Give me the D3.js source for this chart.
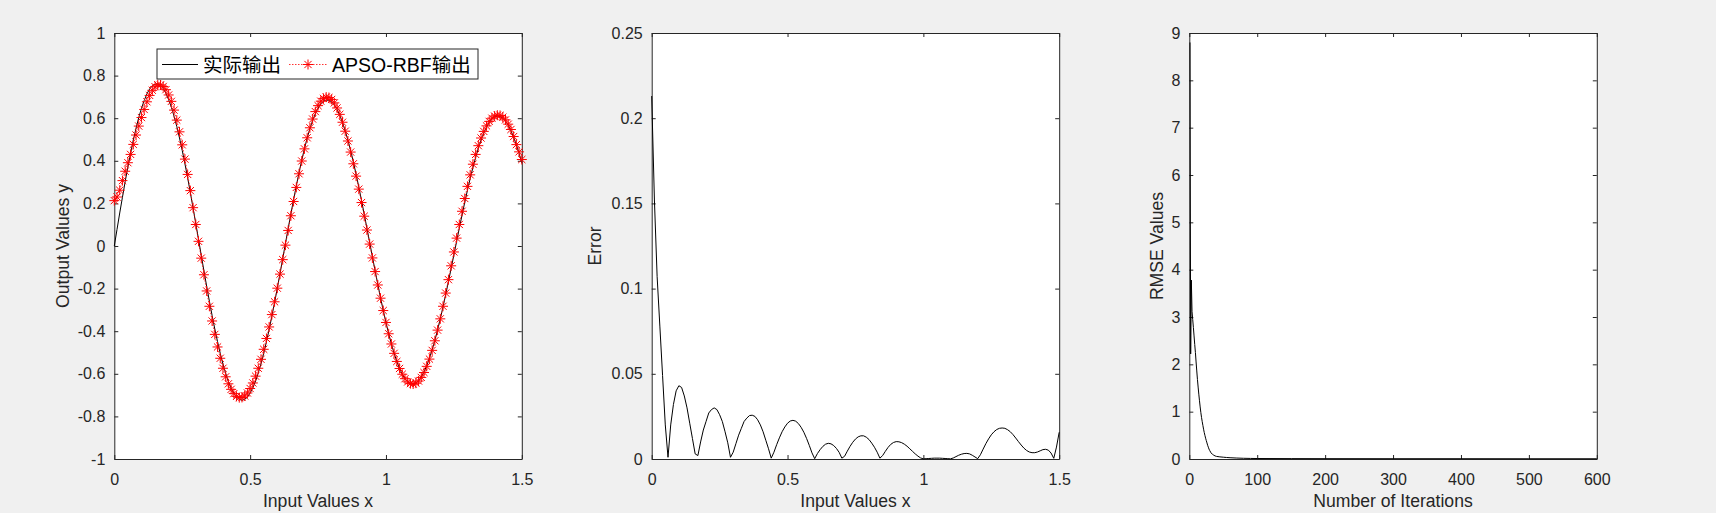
<!DOCTYPE html>
<html>
<head>
<meta charset="utf-8">
<script src="https://cdn.jsdelivr.net/npm/d3@7"></script>
<style>
  html, body { margin: 0; padding: 0; background: #f0f0f0; }
  svg { display: block; }
  text { font-family: "Liberation Sans", Arial, "Noto Sans CJK SC", sans-serif; }
</style>
</head>
<body>
<svg id="chart" width="1716" height="513"></svg>
<script>
// x = 0:0.01:1.5 sample grid for the first two panels
const xStep = 0.01;

// actual output (black line)
const actualY = [
  0, 0.078, 0.155, 0.229, 0.302, 0.371, 0.436, 0.497, 0.553, 0.603,
  0.646, 0.683, 0.714, 0.737, 0.752, 0.760, 0.761, 0.753, 0.739, 0.717,
  0.687, 0.652, 0.609, 0.561, 0.507, 0.449, 0.386, 0.320, 0.250, 0.178,
  0.105, 0.031, -0.043, -0.117, -0.189, -0.259, -0.326, -0.390, -0.449, -0.504,
  -0.554, -0.598, -0.636, -0.667, -0.692, -0.710, -0.720, -0.724, -0.720, -0.709,
  -0.690, -0.666, -0.634, -0.596, -0.553, -0.504, -0.450, -0.392, -0.330, -0.265,
  -0.198, -0.129, -0.059, 0.012, 0.082, 0.151, 0.218, 0.283, 0.345, 0.403,
  0.457, 0.507, 0.551, 0.589, 0.621, 0.647, 0.667, 0.680, 0.685, 0.684,
  0.677, 0.662, 0.641, 0.614, 0.580, 0.541, 0.497, 0.448, 0.395, 0.337,
  0.277, 0.214, 0.149, 0.083, 0.017, -0.050, -0.116, -0.180, -0.243, -0.303,
  -0.359, -0.412, -0.460, -0.504, -0.542, -0.575, -0.602, -0.623, -0.638, -0.646,
  -0.648, -0.643, -0.632, -0.615, -0.591, -0.562, -0.527, -0.487, -0.443, -0.394,
  -0.341, -0.286, -0.227, -0.167, -0.105, -0.042, 0.021, 0.084, 0.145, 0.205,
  0.262, 0.317, 0.368, 0.415, 0.459, 0.497, 0.530, 0.558, 0.580, 0.596,
  0.606, 0.610, 0.608, 0.600, 0.586, 0.567, 0.541, 0.510, 0.475, 0.435,
  0.390
];

// APSO-RBF output (red dotted line with * markers)
const predictedY = [
  0.213, 0.230, 0.262, 0.307, 0.351, 0.391, 0.430, 0.477, 0.521, 0.563,
  0.603, 0.641, 0.677, 0.707, 0.731, 0.748, 0.757, 0.756, 0.749, 0.734,
  0.709, 0.679, 0.638, 0.591, 0.536, 0.475, 0.408, 0.336, 0.260, 0.180,
  0.101, 0.022, -0.057, -0.135, -0.211, -0.283, -0.352, -0.415, -0.474, -0.527,
  -0.574, -0.614, -0.647, -0.673, -0.693, -0.706, -0.712, -0.711, -0.704, -0.690,
  -0.669, -0.643, -0.611, -0.574, -0.532, -0.485, -0.434, -0.380, -0.322, -0.262,
  -0.198, -0.132, -0.064, 0.004, 0.073, 0.142, 0.209, 0.275, 0.339, 0.399,
  0.456, 0.508, 0.555, 0.596, 0.631, 0.659, 0.680, 0.693, 0.699, 0.697,
  0.688, 0.672, 0.648, 0.618, 0.581, 0.539, 0.493, 0.441, 0.386, 0.328,
  0.267, 0.204, 0.140, 0.075, 0.009, -0.056, -0.120, -0.183, -0.245, -0.303,
  -0.359, -0.412, -0.460, -0.504, -0.542, -0.575, -0.602, -0.623, -0.638, -0.646,
  -0.648, -0.644, -0.634, -0.617, -0.594, -0.565, -0.531, -0.490, -0.445, -0.395,
  -0.342, -0.283, -0.221, -0.158, -0.093, -0.028, 0.037, 0.101, 0.163, 0.223,
  0.280, 0.334, 0.384, 0.430, 0.471, 0.507, 0.538, 0.564, 0.585, 0.600,
  0.610, 0.614, 0.613, 0.605, 0.592, 0.572, 0.547, 0.514, 0.476, 0.442,
  0.406
];

// absolute error (second panel)
const errorY = [
  0.213, 0.152, 0.107, 0.078, 0.049, 0.020, 0.001, 0.020, 0.032, 0.040,
  0.043, 0.042, 0.037, 0.030, 0.021, 0.012, 0.003, 0.002, 0.010, 0.017,
  0.022, 0.027, 0.029, 0.030, 0.029, 0.026, 0.022, 0.016, 0.0095, 0.001,
  0.004, 0.009, 0.014, 0.018, 0.022, 0.024, 0.0255, 0.0257, 0.025, 0.023,
  0.020, 0.016, 0.011, 0.006, 0.0005, 0.004, 0.0084, 0.0124, 0.016, 0.0188,
  0.021, 0.0223, 0.0227, 0.0222, 0.0208, 0.0186, 0.0157, 0.0121, 0.008, 0.0036,
  0.0002, 0.0032, 0.0055, 0.0074, 0.0087, 0.0092, 0.0089, 0.0079, 0.0062, 0.0039,
  0.0005, 0.0016, 0.0046, 0.0074, 0.0098, 0.0117, 0.013, 0.0136, 0.0136, 0.0128,
  0.0114, 0.0093, 0.0069, 0.004, 0.0005, 0.002, 0.0045, 0.0068, 0.0086, 0.0097,
  0.0102, 0.0101, 0.0096, 0.0087, 0.0075, 0.006, 0.0045, 0.003, 0.0017, 0.0006,
  0.0001, 0.0002, 0.0003, 0.0004, 0.0005, 0.0005, 0.0005, 0.0004, 0.0003, 0.0002,
  0.0001, 0.0006, 0.0014, 0.0022, 0.0028, 0.0032, 0.0033, 0.003, 0.0022, 0.0012,
  0.0002, 0.0025, 0.0058, 0.009, 0.0118, 0.0142, 0.016, 0.0173, 0.018, 0.0182,
  0.018, 0.0172, 0.016, 0.0143, 0.0123, 0.0102, 0.0082, 0.0064, 0.005, 0.0041,
  0.0037, 0.0037, 0.0041, 0.0048, 0.0055, 0.0057, 0.0052, 0.0035, 0.0004, 0.007,
  0.0157
];

// RMSE per iteration (third panel)
const iterations = [
  1, 2, 3, 4, 5, 6, 7, 8, 9, 10,
  11, 12, 13, 14, 15, 16, 17, 18, 19, 20,
  21, 22, 23, 24, 25, 26, 27, 28, 29, 30,
  32, 34, 36, 38, 40, 45, 50, 55, 60,
  70, 80, 90, 100, 150, 200, 300, 400, 500, 600
];
const rmseValues = [
  8.80, 2.22, 3.78, 3.12, 2.95, 2.78, 2.60, 2.42, 2.25, 2.05,
  1.86, 1.68, 1.52, 1.37, 1.23, 1.10, 0.98, 0.88, 0.79, 0.71,
  0.63, 0.56, 0.50, 0.44, 0.39, 0.34, 0.29, 0.25, 0.21, 0.18,
  0.13, 0.10, 0.08, 0.065, 0.055, 0.045, 0.038, 0.032, 0.027,
  0.020, 0.015, 0.012, 0.010, 0.008, 0.007, 0.006, 0.006, 0.005, 0.005
];

const legendLabels = ['实际输出', 'APSO-RBF输出'];

const xTicksInput = [0, 0.5, 1, 1.5];
const yTicksOutput = [-1, -0.8, -0.6, -0.4, -0.2, 0, 0.2, 0.4, 0.6, 0.8, 1];
const yTicksError = [0, 0.05, 0.1, 0.15, 0.2, 0.25];
const xTicksIter = [0, 100, 200, 300, 400, 500, 600];
const yTicksRmse = [0, 1, 2, 3, 4, 5, 6, 7, 8, 9];

const inputX = actualY.map((_, i) => +(i * xStep).toFixed(2));

// layout
const plotTop = 33, plotBottom = 459, plotW = 407.5;
const lefts = [114.3, 651.7, 1189.3];
const axisColor = '#262626';
const tickFont = 16, labelFont = 17.6;

const svg = d3.select('#chart');

function drawAxes(left, x, y, xTicks, yTicks, xLabel, yLabel, yLabelX) {
  const g = svg.append('g').attr('transform', `translate(${left},0)`);
  g.append('rect')
    .attr('x', 0).attr('y', plotTop)
    .attr('width', plotW).attr('height', plotBottom - plotTop)
    .attr('fill', '#ffffff');

  const fmt = d => String(d);
  const axes = [
    g.append('g').attr('transform', `translate(0,${plotBottom})`)
      .call(d3.axisBottom(x).tickValues(xTicks).tickFormat(fmt).tickSizeInner(-4).tickSizeOuter(0).tickPadding(14.5)),
    g.append('g')
      .call(d3.axisLeft(y).tickValues(yTicks).tickFormat(fmt).tickSizeInner(-4).tickSizeOuter(0).tickPadding(9)),
    g.append('g').attr('transform', `translate(0,${plotTop})`)
      .call(d3.axisTop(x).tickValues(xTicks).tickFormat('').tickSizeInner(-4).tickSizeOuter(0)),
    g.append('g').attr('transform', `translate(${plotW},0)`)
      .call(d3.axisRight(y).tickValues(yTicks).tickFormat('').tickSizeInner(-4).tickSizeOuter(0))
  ];
  axes.forEach(a => {
    a.attr('font-family', null).attr('font-size', tickFont);
    a.selectAll('path, line').attr('stroke', axisColor).attr('stroke-width', 1);
    a.selectAll('text').attr('fill', axisColor);
  });

  g.append('text')
    .attr('x', plotW / 2).attr('y', 507)
    .attr('text-anchor', 'middle')
    .attr('font-size', labelFont).attr('fill', axisColor)
    .text(xLabel);
  g.append('text')
    .attr('transform', `translate(${yLabelX - left},${(plotTop + plotBottom) / 2}) rotate(-90)`)
    .attr('text-anchor', 'middle').attr('dy', '0.35em')
    .attr('font-size', labelFont).attr('fill', axisColor)
    .text(yLabel);
  return g;
}

const starPath = 'M-5,0H5M0,-5V5M-3.6,-3.6L3.6,3.6M-3.6,3.6L3.6,-3.6';

// panel 1: actual vs APSO-RBF output
const x1 = d3.scaleLinear().domain([0, 1.5]).range([0, plotW]);
const y1 = d3.scaleLinear().domain([-1, 1]).range([plotBottom, plotTop]);
const g1 = drawAxes(lefts[0], x1, y1, xTicksInput, yTicksOutput, 'Input Values x', 'Output Values y', 63);

const line1 = d3.line().x((d, i) => x1(inputX[i])).y(d => y1(d));
g1.append('path').datum(actualY)
  .attr('d', line1).attr('fill', 'none')
  .attr('stroke', '#000').attr('stroke-width', 1);
g1.append('path').datum(predictedY)
  .attr('d', line1).attr('fill', 'none')
  .attr('stroke', '#ff0000').attr('stroke-width', 0.8).attr('stroke-dasharray', '1.5,1.5');
g1.append('g').selectAll('path')
  .data(predictedY)
  .join('path')
  .attr('transform', (d, i) => `translate(${x1(inputX[i])},${y1(d)})`)
  .attr('d', starPath)
  .attr('fill', 'none').attr('stroke', '#ff0000').attr('stroke-width', 1);

// legend
const lg = svg.append('g');
lg.append('rect')
  .attr('x', 157).attr('y', 49).attr('width', 321).attr('height', 30)
  .attr('fill', '#ffffff').attr('stroke', axisColor).attr('stroke-width', 1);
lg.append('line')
  .attr('x1', 162).attr('x2', 198).attr('y1', 64.5).attr('y2', 64.5)
  .attr('stroke', '#000').attr('stroke-width', 1);
lg.append('text')
  .attr('x', 203).attr('y', 72)
  .attr('font-size', 19.5).attr('fill', '#000')
  .text(legendLabels[0]);
lg.append('line')
  .attr('x1', 289).attr('x2', 327).attr('y1', 64.5).attr('y2', 64.5)
  .attr('stroke', '#ff0000').attr('stroke-width', 0.8).attr('stroke-dasharray', '1.5,1.5');
lg.append('path')
  .attr('transform', 'translate(308,64.5)')
  .attr('d', starPath)
  .attr('fill', 'none').attr('stroke', '#ff0000').attr('stroke-width', 1);
lg.append('text')
  .attr('x', 332).attr('y', 72)
  .attr('font-size', 19.5).attr('fill', '#000')
  .text(legendLabels[1]);

// panel 2: error
const x2 = d3.scaleLinear().domain([0, 1.5]).range([0, plotW]);
const y2 = d3.scaleLinear().domain([0, 0.25]).range([plotBottom, plotTop]);
const g2 = drawAxes(lefts[1], x2, y2, xTicksInput, yTicksError, 'Input Values x', 'Error', 595);
g2.append('path').datum(errorY)
  .attr('d', d3.line().x((d, i) => x2(inputX[i])).y(d => y2(d)))
  .attr('fill', 'none').attr('stroke', '#000').attr('stroke-width', 1);

// panel 3: RMSE convergence
const x3 = d3.scaleLinear().domain([0, 600]).range([0, plotW]);
const y3 = d3.scaleLinear().domain([0, 9]).range([plotBottom, plotTop]);
const g3 = drawAxes(lefts[2], x3, y3, xTicksIter, yTicksRmse, 'Number of Iterations', 'RMSE Values', 1157);
g3.append('path').datum(rmseValues)
  .attr('d', d3.line().x((d, i) => x3(iterations[i])).y(d => y3(d)))
  .attr('fill', 'none').attr('stroke', '#000').attr('stroke-width', 1);
</script>
</body>
</html>
